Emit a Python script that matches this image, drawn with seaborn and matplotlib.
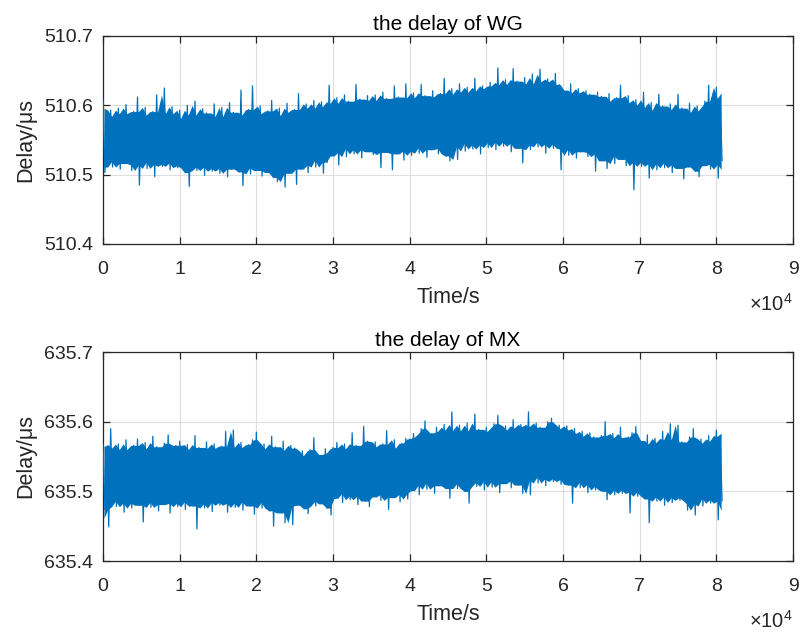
import numpy as np
import pandas as pd
import matplotlib
matplotlib.use("Agg")
import matplotlib.pyplot as plt
import seaborn as sns

# Delay record: one upper excursion every 500 s, one lower excursion 250 s later
t_step = 500

wg_high = [
    510.608, 510.584, 510.593, 510.578, 510.596, 510.588, 510.601, 510.580, 510.591, 510.612,
    510.586, 510.597, 510.579, 510.591, 510.615, 510.583, 510.625, 510.588, 510.598, 510.581,
    510.593, 510.577, 510.600, 510.586, 510.606, 510.582, 510.595, 510.589, 510.575, 510.602,
    510.584, 510.597, 510.580, 510.604, 510.590, 510.586, 510.622, 510.583, 510.594, 510.628,
    510.588, 510.599, 510.579, 510.592, 510.607, 510.585, 510.596, 510.581, 510.603, 510.590,
    510.594, 510.617, 510.588, 510.602, 510.596, 510.607, 510.591, 510.605, 510.598, 510.629,
    510.603, 510.611, 510.597, 510.615, 510.606, 510.600, 510.630, 510.609, 510.602, 510.614,
    510.607, 510.615, 510.601, 510.619, 510.610, 510.604, 510.628, 510.612, 510.606, 510.631,
    510.611, 510.618, 510.605, 510.630, 510.614, 510.608, 510.621, 510.612, 510.617, 510.639,
    510.616, 510.624, 510.610, 510.631, 510.619, 510.626, 510.614, 510.639, 510.621, 510.628,
    510.624, 510.633, 510.628, 510.654, 510.630, 510.637, 510.626, 510.653, 510.635, 510.629,
    510.640, 510.631, 510.645, 510.627, 510.652, 510.634, 510.638, 510.624, 510.646, 510.630,
    510.622, 510.615, 510.631, 510.618, 510.624, 510.612, 510.621, 510.616, 510.609, 510.619,
    510.613, 510.606, 510.617, 510.603, 510.611, 510.629, 510.604, 510.614, 510.600, 510.608,
    510.597, 510.619, 510.593, 510.604, 510.590, 510.616, 510.599, 510.588, 510.602, 510.594,
    510.616, 510.596, 510.590, 510.603, 510.585, 510.599, 510.592, 510.606, 510.629, 510.597,
    510.626, 510.610,
]
wg_low = [
    510.503, 510.519, 510.511, 510.524, 510.508, 510.516, 510.521, 510.506, 510.514, 510.485,
    510.518, 510.509, 510.523, 510.497, 510.515, 510.512, 510.525, 510.507, 510.517, 510.510,
    510.513, 510.503, 510.483, 510.517, 510.506, 510.511, 510.499, 510.514, 510.505, 510.509,
    510.502, 510.512, 510.497, 510.508, 510.515, 510.504, 510.484, 510.510, 510.501, 510.513,
    510.506, 510.498, 510.511, 510.503, 510.496, 510.490, 510.509, 510.482, 510.502, 510.510,
    510.486, 510.508, 510.514, 510.503, 510.521, 510.511, 510.524, 510.502, 510.518, 510.527,
    510.532, 510.514, 510.538, 510.526, 510.541, 510.530, 510.536, 510.524, 510.543, 510.533,
    510.529, 510.536, 510.510, 510.532, 510.540, 510.507, 510.530, 510.537, 510.521, 510.534,
    510.528, 510.539, 510.531, 510.544, 510.525, 510.536, 510.542, 510.530, 510.538, 510.527,
    510.520, 510.541, 510.522, 510.545, 510.534, 510.548, 510.537, 510.543, 510.530, 510.546,
    510.539, 510.550, 510.536, 510.547, 510.541, 510.553, 510.533, 510.545, 510.538, 510.517,
    510.543, 510.536, 510.551, 510.540, 510.547, 510.531, 510.544, 510.538, 510.549, 510.507,
    510.537, 510.528, 510.541, 510.524, 510.533, 510.539, 510.526, 510.532, 510.505, 510.530,
    510.520, 510.509, 510.527, 510.516, 510.531, 510.522, 510.513, 510.525, 510.478, 510.518,
    510.512, 510.520, 510.495, 510.516, 510.507, 510.522, 510.510, 510.517, 510.503, 510.514,
    510.509, 510.494, 510.518, 510.511, 510.505, 510.497, 510.513, 510.520, 510.508, 510.515,
    510.495, 510.520,
]
mx_high = [
    635.567, 635.562, 635.590, 635.556, 635.568, 635.560, 635.574, 635.553, 635.566, 635.575,
    635.561, 635.570, 635.552, 635.579, 635.564, 635.557, 635.569, 635.581, 635.558, 635.566,
    635.572, 635.555, 635.567, 635.560, 635.580, 635.563, 635.554, 635.571, 635.562, 635.568,
    635.559, 635.565, 635.586, 635.556, 635.588, 635.563, 635.570, 635.553, 635.567, 635.574,
    635.585, 635.561, 635.568, 635.556, 635.579, 635.564, 635.559, 635.572, 635.553, 635.566,
    635.562, 635.551, 635.558, 635.548, 635.560, 635.577, 635.553, 635.546, 635.561, 635.555,
    635.563, 635.570, 635.557, 635.568, 635.561, 635.584, 635.566, 635.559, 635.593, 635.572,
    635.564, 635.571, 635.560, 635.568, 635.587, 635.562, 635.574, 635.558, 635.569, 635.576,
    635.575, 635.583, 635.578, 635.590, 635.601, 635.584, 635.579, 635.592, 635.586, 635.596,
    635.588, 635.614, 635.582, 635.595, 635.587, 635.598, 635.580, 635.611, 635.589, 635.584,
    635.592, 635.586, 635.597, 635.609, 635.583, 635.594, 635.588, 635.603, 635.591, 635.596,
    635.593, 635.614, 635.589, 635.598, 635.592, 635.587, 635.600, 635.605, 635.590, 635.595,
    635.588, 635.594, 635.583, 635.590, 635.579, 635.586, 635.575, 635.584, 635.578, 635.572,
    635.580, 635.600, 635.574, 635.583, 635.577, 635.592, 635.570, 635.578, 635.584, 635.593,
    635.573, 635.568, 635.581, 635.565, 635.576, 635.570, 635.586, 635.574, 635.597, 635.567,
    635.595, 635.571, 635.564, 635.578, 635.590, 635.566, 635.575, 635.569, 635.580, 635.572,
    635.588, 635.579,
]
mx_low = [
    635.474, 635.449, 635.486, 635.478, 635.491, 635.470, 635.483, 635.476, 635.489, 635.480,
    635.456, 635.484, 635.477, 635.490, 635.472, 635.481, 635.487, 635.469, 635.483, 635.478,
    635.485, 635.474, 635.488, 635.479, 635.446, 635.482, 635.476, 635.491, 635.471, 635.484,
    635.480, 635.487, 635.470, 635.483, 635.477, 635.490, 635.473, 635.485, 635.479, 635.467,
    635.484, 635.476, 635.488, 635.472, 635.450, 635.481, 635.469, 635.455, 635.478, 635.452,
    635.480, 635.488, 635.475, 635.468, 635.486, 635.479, 635.491, 635.482, 635.476, 635.466,
    635.490, 635.497, 635.484, 635.499, 635.488, 635.493, 635.481, 635.496, 635.486, 635.478,
    635.492, 635.498, 635.487, 635.495, 635.474, 635.491, 635.500, 635.485, 635.496, 635.489,
    635.501, 635.509, 635.495, 635.512, 635.503, 635.515, 635.497, 635.508, 635.513, 635.504,
    635.490, 635.511, 635.504, 635.517, 635.500, 635.483, 635.513, 635.507, 635.519, 635.502,
    635.514, 635.506, 635.518, 635.498, 635.511, 635.520, 635.505, 635.515, 635.509, 635.497,
    635.516, 635.495, 635.521, 635.512, 635.525, 635.508, 635.518, 635.514, 635.522, 635.510,
    635.517, 635.509, 635.483, 635.513, 635.505, 635.519, 635.498, 635.510, 635.502, 635.507,
    635.500, 635.488, 635.506, 635.495, 635.502, 635.497, 635.508, 635.469, 635.499, 635.493,
    635.503, 635.489, 635.455, 635.496, 635.486, 635.492, 635.480, 635.498, 635.484, 635.491,
    635.487, 635.494, 635.473, 635.482, 635.466, 635.490, 635.479, 635.495, 635.483, 635.488,
    635.459, 635.486,
]

titles = ["the delay of WG", "the delay of MX"]
y_ticks = [[510.4, 510.5, 510.6, 510.7], [635.4, 635.5, 635.6, 635.7]]
x_ticks = [0, 10000, 20000, 30000, 40000, 50000, 60000, 70000, 80000, 90000]
x_tick_labels = ["0", "1", "2", "3", "4", "5", "6", "7", "8", "9"]
x_label = "Time/s"
y_label = "Delay/\u03bcs"
exponent_label = r"$\times\mathregular{10^4}$"

LINE_COLOR = "#0072BD"
INK = "#262626"


def build_frames(high, low):
    """Interleave upper/lower excursions into one trace, and derive the dense core band."""
    high = pd.Series(high, dtype=float)
    low = pd.Series(low, dtype=float)
    t_high = np.arange(len(high)) * t_step
    t_low = t_high + t_step / 2
    trace = pd.DataFrame({
        "t": np.column_stack([t_high, t_low]).ravel(),
        "delay": np.column_stack([high, low]).ravel(),
    })
    core = pd.DataFrame({
        "t": t_high + t_step / 4,
        "top": high.rolling(3, center=True, min_periods=1).median(),
        "bottom": low.rolling(3, center=True, min_periods=1).median(),
    })
    return trace, core


sns.set_style("ticks")
plt.rcParams.update({
    "font.family": ["Liberation Sans", "DejaVu Sans"],
    "mathtext.fontset": "custom",
    "mathtext.rm": "Liberation Sans",
    "mathtext.it": "Liberation Sans:italic",
    "text.color": INK,
    "axes.labelcolor": INK,
    "xtick.color": INK,
    "ytick.color": INK,
    "axes.edgecolor": INK,
})

fig = plt.figure(figsize=(8.0, 6.32), dpi=100)
positions = [
    [103 / 800, 1 - 244 / 632, 690 / 800, 208 / 632],
    [103 / 800, 1 - 561 / 632, 690 / 800, 209 / 632],
]
records = [build_frames(wg_high, wg_low), build_frames(mx_high, mx_low)]

for pos, (trace, core), title, yt in zip(positions, records, titles, y_ticks):
    ax = fig.add_axes(pos)
    ax.fill_between(core["t"], core["bottom"], core["top"], color=LINE_COLOR,
                    linewidth=0, zorder=2)
    sns.lineplot(data=trace, x="t", y="delay", ax=ax, color=LINE_COLOR,
                 linewidth=0.9, estimator=None, sort=False, zorder=3)
    ax.set_xlim(0, 90000)
    ax.set_ylim(yt[0], yt[-1])
    ax.set_xticks(x_ticks)
    ax.set_xticklabels(x_tick_labels)
    ax.set_yticks(yt)
    ax.set_yticklabels([f"{v:.1f}" for v in yt])
    ax.grid(True, color="#dedede", linewidth=0.8)
    ax.set_axisbelow(True)
    for side in ["top", "right", "bottom", "left"]:
        ax.spines[side].set_visible(True)
        ax.spines[side].set_linewidth(0.9)
        ax.spines[side].set_color(INK)
    ax.tick_params(axis="both", which="both", direction="in", length=5,
                   width=0.9, top=True, right=True, labelsize=14)
    ax.tick_params(axis="x", pad=12)
    ax.tick_params(axis="y", pad=7)
    ax.set_xlabel(x_label, fontsize=15.5, labelpad=7)
    ax.set_ylabel(y_label, fontsize=15.5, labelpad=6)
    ax.set_title(title, fontsize=15, pad=4, color="black")
    ax.text(1.0, -0.32, exponent_label, transform=ax.transAxes,
            ha="right", va="baseline", fontsize=14.5, color=INK)

fig.savefig("out.png", dpi=100)
